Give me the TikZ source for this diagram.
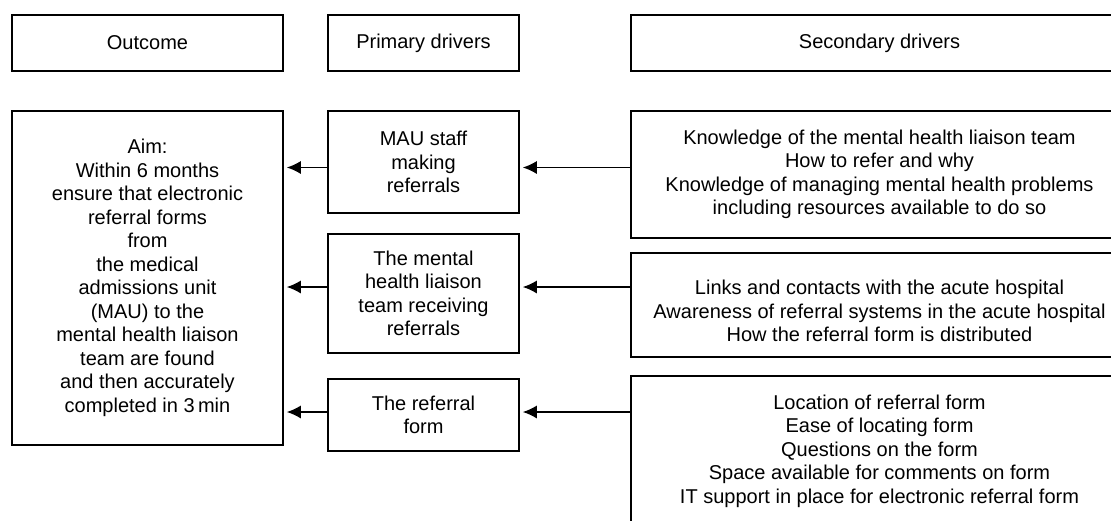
\documentclass[tikz,border=0pt]{standalone}
\usepackage{fontspec}
\setmainfont{Liberation Sans}
\usetikzlibrary{arrows.meta}
\begin{document}
\begin{tikzpicture}[x=1pt, y=-1pt,
    box/.style={draw=black, line width=1.5pt, align=center, inner sep=0pt,
      font=\fontsize{20}{23.5}\selectfont},
    link/.style={draw=black, -{Latex[length=14pt,width=13pt]}, line width=1.5pt, shorten >=3pt}]
    \clip (0,0) rectangle (1111,520);
    % column headers
    \node[box, minimum width=271pt, minimum height=56pt] (outc) at (147.5,43) {Outcome};
    \node[box, minimum width=191pt, minimum height=56pt] (prim) at (423.5,43) {Primary drivers};
    \node[box, minimum width=497pt, minimum height=56pt] (seco) at (879.5,43) {Secondary drivers};
    % outcome
    \node[box, minimum width=271pt, minimum height=334pt] (aim) at (147.5,278) {Aim:\\Within 6 months\\ensure that electronic\\referral forms\\from\\the medical\\admissions unit\\(MAU) to the\\mental health liaison\\team are found\\and then accurately\\completed in 3\,min};
    % primary drivers
    \node[box, minimum width=191pt, minimum height=102pt] (mau) at (423.5,162) {MAU staff\\making\\referrals};
    \node[box, minimum width=191pt, minimum height=119pt] (team) at (423.5,293.5) {The mental\\health liaison\\team receiving\\referrals};
    \node[box, minimum width=191pt, minimum height=72pt] (form) at (423.5,415) {The referral\\form};
    % secondary drivers
    \node[box, minimum width=497pt, minimum height=127pt] (know) at (879.5,174.5) {Knowledge of the mental health liaison team\\How to refer and why\\Knowledge of managing mental health problems\\including resources available to do so};
    \node[box, minimum width=497pt, minimum height=104pt] (cont) at (879.5,305) {\rule{0pt}{27pt}Links and contacts with the acute hospital\\Awareness of referral systems in the acute hospital\\How the referral form is distributed};
    \node[box, minimum width=497pt, minimum height=150pt] (loc) at (879.5,451) {Location of referral form\\Ease of locating form\\Questions on the form\\Space available for comments on form\\IT support in place for electronic referral form};
    % arrows
    \coordinate (rowA) at (0,167.5);
    \coordinate (rowB) at (0,287);
    \coordinate (rowC) at (0,412);
    \draw[link] (know.west |- rowA) -- (mau.east |- rowA);
    \draw[link] (cont.west |- rowB) -- (team.east |- rowB);
    \draw[link] (loc.west |- rowC) -- (form.east |- rowC);
    \draw[link] (mau.west |- rowA) -- (aim.east |- rowA);
    \draw[link] (team.west |- rowB) -- (aim.east |- rowB);
    \draw[link] (form.west |- rowC) -- (aim.east |- rowC);
\end{tikzpicture}
\end{document}
